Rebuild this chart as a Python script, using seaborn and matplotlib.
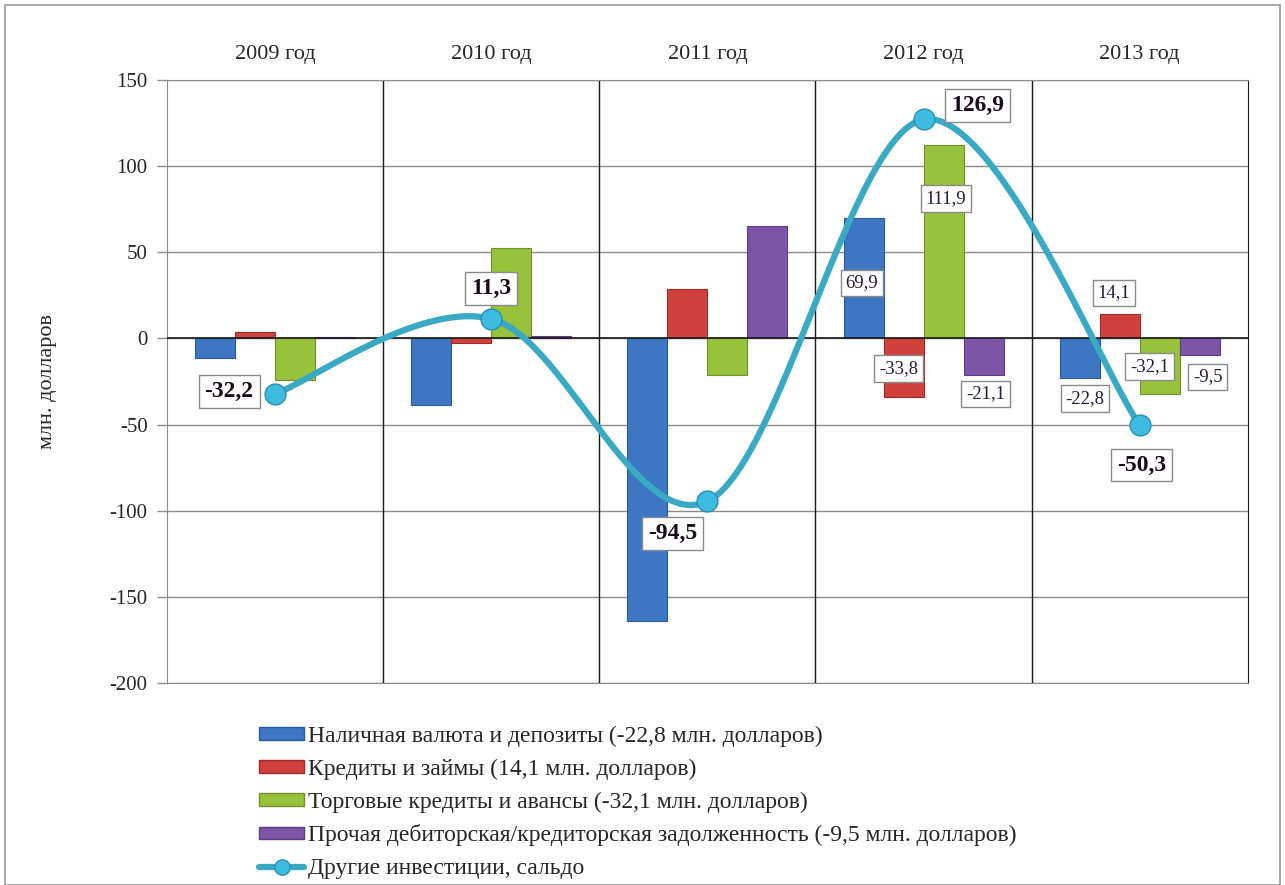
import numpy as np
import pandas as pd
import matplotlib
matplotlib.use("Agg")
import matplotlib.pyplot as plt
from matplotlib.patches import Rectangle, Patch
from matplotlib.lines import Line2D
import seaborn as sns

years = ["2009 год", "2010 год", "2011 год", "2012 год", "2013 год"]
series = [
    "Наличная валюта и депозиты (-22,8 млн. долларов)",
    "Кредиты и займы (14,1 млн. долларов)",
    "Торговые кредиты и авансы (-32,1 млн. долларов)",
    "Прочая дебиторская/кредиторская задолженность (-9,5 млн. долларов)",
]
cash = [-11.5, -38.5, -163.7, 69.9, -22.8]
loans = [3.5, -3.0, 28.4, -33.8, 14.1]
trade = [-24.0, 52.5, -21.5, 111.9, -32.1]
other = [0.6, 1.5, 65.0, -21.1, -9.5]
balance = [-32.2, 11.3, -94.5, 126.9, -50.3]
line_label = "Другие инвестиции, сальдо"

colors = ["#3d76c2", "#d0413d", "#98c23b", "#7d55a8"]
edge_colors = ["#2b5a9a", "#9e2b28", "#6f9129", "#5b3d80"]
line_color = "#3aa9c4"

df = pd.DataFrame({
    "year": np.repeat(years, 4),
    "series": series * len(years),
    "value": [v for row in zip(cash, loans, trade, other) for v in row],
})

sns.set_style("white")
plt.rcParams["font.family"] = ["Liberation Serif", "DejaVu Serif"]
plt.rcParams["axes.unicode_minus"] = False

fig = plt.figure(figsize=(12.85, 8.85), dpi=100)
ax = fig.add_axes([0.130, 0.228, 0.841, 0.682])

bar_w = 0.74
sns.barplot(data=df, x="year", y="value", hue="series", order=years,
            hue_order=series, palette=colors, width=bar_w, saturation=1,
            legend=False, ax=ax, zorder=3)
for cont, ec in zip(ax.containers, edge_colors):
    for p in cont:
        p.set_edgecolor(ec)
        p.set_linewidth(0.8)

# smoothed line (Catmull-Rom / Bezier like Excel)
xs = np.arange(len(balance), dtype=float)
ys = np.array(balance, dtype=float)
px = np.concatenate([[xs[0]], xs, [xs[-1]]])
py = np.concatenate([[ys[0]], ys, [ys[-1]]])
t = np.linspace(0, 1, 60)
cx, cy = [], []
for i in range(1, len(px) - 2):
    p0 = np.array([px[i], py[i]])
    p3 = np.array([px[i + 1], py[i + 1]])
    p1 = p0 + (np.array([px[i + 1], py[i + 1]]) - np.array([px[i - 1], py[i - 1]])) / 6
    p2 = p3 - (np.array([px[i + 2], py[i + 2]]) - np.array([px[i], py[i]])) / 6
    b = ((1 - t) ** 3)[:, None] * p0 + (3 * (1 - t) ** 2 * t)[:, None] * p1 \
        + (3 * (1 - t) * t ** 2)[:, None] * p2 + (t ** 3)[:, None] * p3
    cx.extend(b[:, 0])
    cy.extend(b[:, 1])
ax.plot(cx, cy, color=line_color, lw=4.5, zorder=4, solid_capstyle="round")
ax.plot(xs, ys, "o", ms=15, mfc="#3dbbe0", mec="#2a90b0", mew=1, zorder=5)

box = dict(boxstyle="square,pad=0.25", fc="white", ec="#8a8a8a", lw=1)
line_offsets = [(-46, 2), (0, 30), (-35, -32), (54, 14), (2, -40)]
for x, y, off in zip(xs, ys, line_offsets):
    ax.annotate(f"{y:.1f}".replace(".", ","), (x, y), xytext=off,
                textcoords="offset pixels", ha="center", va="center",
                fontsize=17, fontweight="bold", color="#1a0a1a", bbox=box,
                zorder=6)

# bar labels for 2012 and 2013
slot = bar_w / 4
bar_offsets = {
    3: [(-2, -65), (-5, 28), (2, -53), (2, -19)],
    4: [(5, -21), (-6, 21), (-10, 27), (8, -22)],
}
vals = [cash, loans, trade, other]
small_box = dict(boxstyle="square,pad=0.25", fc="white", ec="#8a8a8a", lw=1)
for gi, offs in bar_offsets.items():
    for j, off in enumerate(offs):
        v = vals[j][gi]
        bx = gi + (j - 1.5) * slot
        ax.annotate(f"{v:.1f}".replace(".", ","), (bx, v), xytext=off,
                    textcoords="offset pixels", ha="center", va="center",
                    fontsize=13.5, color="#2a1a3a", bbox=small_box, zorder=6)

ax.set_ylim(-200, 150)
ax.set_xlim(-0.5, 4.5)
ax.set_yticks(range(-200, 151, 50))
ax.yaxis.grid(True, color="#8c8c8c", lw=1)
ax.set_axisbelow(True)
for xv in [0.5, 1.5, 2.5, 3.5]:
    ax.axvline(xv, color="#1a1a1a", lw=1, zorder=1)
ax.axhline(0, color="#1a1a1a", lw=1.2, zorder=3.5)

ax.xaxis.tick_top()
ax.tick_params(axis="x", length=0, pad=11, labelsize=16)
ax.tick_params(axis="y", length=7, width=1, color="#8c8c8c", labelsize=15,
               direction="out", left=True, pad=7)
ax.set_xlabel("")
ax.set_ylabel("млн. долларов", fontsize=16, labelpad=38)
for s in ["left", "bottom", "top"]:
    ax.spines[s].set_color("#8c8c8c")
ax.spines["right"].set_color("#1a1a1a")

handles = [Patch(facecolor=c, edgecolor=e) for c, e in zip(colors, edge_colors)]
handles.append(Line2D([], [], color=line_color, lw=4.5, marker="o", ms=11,
                      mfc="#3dbbe0", mec="#2a90b0"))
fig.legend(handles, series + [line_label], loc="upper left",
           bbox_to_anchor=(250 / 1285, 1 - 716 / 885), frameon=False,
           fontsize=17, labelspacing=0.5, handlelength=1.9,
           handleheight=0.45, handletextpad=0.15, borderaxespad=0)

fig.patches.append(Rectangle((5 / 1285, 0), 1 - 10 / 1285, 1 - 5 / 885,
                             transform=fig.transFigure, fill=False,
                             ec="#9a9a9a", lw=1.2))

fig.savefig("out.png", dpi=100)
